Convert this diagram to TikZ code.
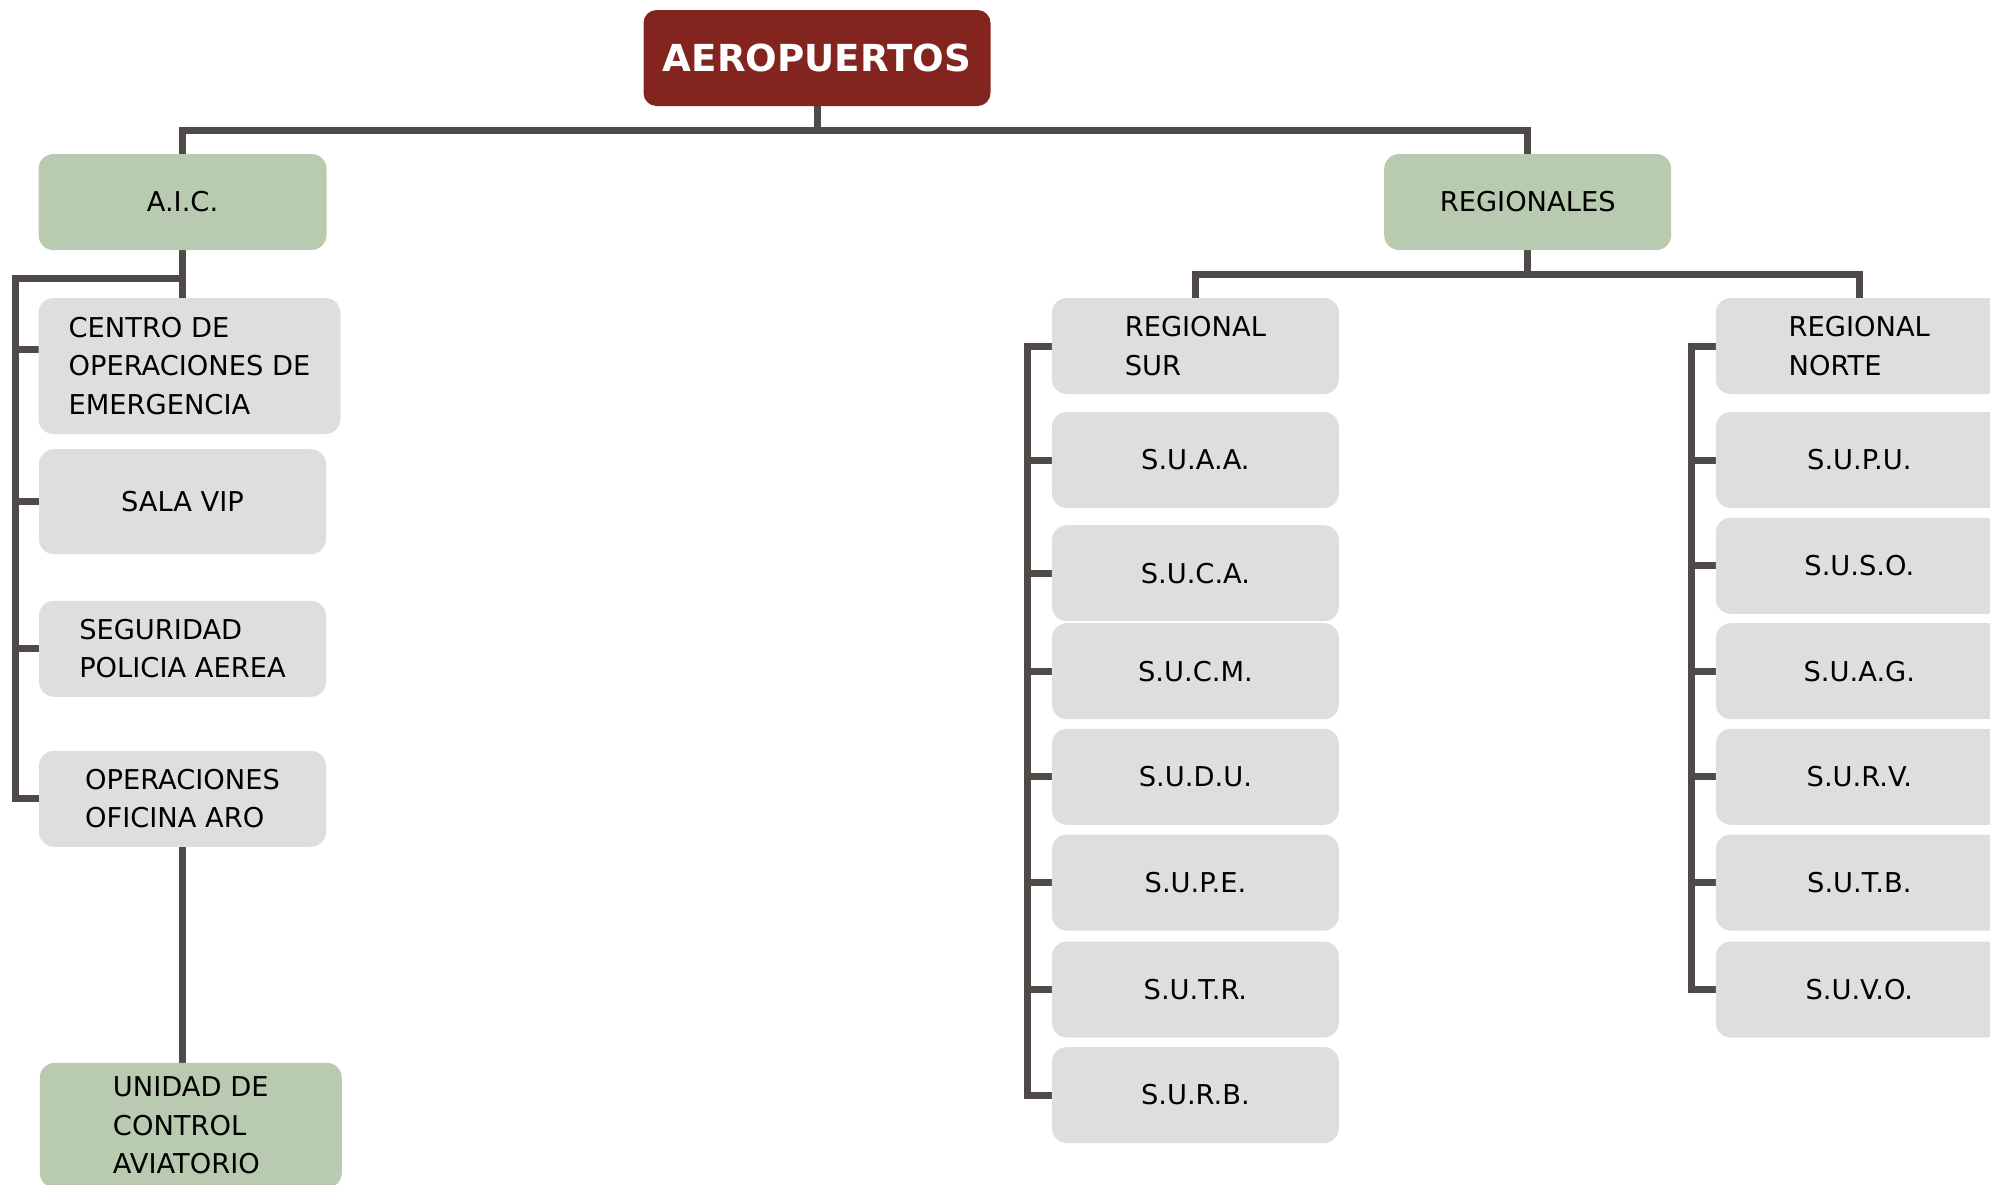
\documentclass[tikz,border=0pt]{standalone}
\usepackage{fontspec}
\setmainfont{DejaVu Sans}
\usetikzlibrary{backgrounds}
\definecolor{aerored}{HTML}{84241F}
\definecolor{boxgreen}{HTML}{B8CBB0}
\definecolor{boxgray}{HTML}{DEDEDE}
\definecolor{linegray}{HTML}{4F4A47}
\begin{document}
\begin{tikzpicture}[x=1pt,y=-1pt,
  box/.style={rectangle, rounded corners=15pt, inner sep=0pt, outer sep=0pt,
    align=left, font=\fontsize{27.3}{38.5}\selectfont, text=black},
  graybox/.style={box, fill=boxgray, minimum width=287pt, minimum height=96pt},
  greenbox/.style={box, fill=boxgreen, minimum width=287pt, minimum height=96pt},
  conn/.style={draw=linegray, line width=7pt, line join=miter},
]
\useasboundingbox (0,0) rectangle (1990,1184);

% root
\node[box, fill=aerored, text=white, font=\bfseries\fontsize{37.2}{44}\selectfont,
  minimum width=347pt, minimum height=96pt, rounded corners=13pt] (aero) at (817,58) {AEROPUERTOS};

% level 1
\node[greenbox, minimum width=288pt] (aic) at (182.5,202) {A.I.C.};
\node[greenbox] (regs) at (1527.7,202) {REGIONALES};

% A.I.C. children
\node[graybox, minimum width=302pt, minimum height=136pt] (centro) at (189.5,366) {CENTRO DE\\OPERACIONES DE\\EMERGENCIA};
\node[graybox, minimum height=105pt] (sala) at (182.5,501.7) {SALA VIP};
\node[graybox] (seg) at (182.5,648.8) {SEGURIDAD\\POLICIA AEREA};
\node[graybox] (ops) at (182.5,798.8) {OPERACIONES\\OFICINA ARO};
\node[greenbox, minimum width=302pt, minimum height=125pt] (unidad) at (190.8,1125.3) {UNIDAD DE\\CONTROL\\AVIATORIO};

% Regional Sur column
\node[graybox] (sur)  at (1195.4,346)   {REGIONAL\\SUR};
\node[graybox] (suaa) at (1195.4,460)   {S.U.A.A.};
\node[graybox] (suca) at (1195.4,573.2) {S.U.C.A.};
\node[graybox] (sucm) at (1195.4,671.2) {S.U.C.M.};
\node[graybox] (sudu) at (1195.4,776.8) {S.U.D.U.};
\node[graybox] (supe) at (1195.4,882.5) {S.U.P.E.};
\node[graybox] (sutr) at (1195.4,989.5) {S.U.T.R.};
\node[graybox] (surb) at (1195.4,1095)  {S.U.R.B.};

% Regional Norte column
\node[graybox] (norte) at (1859.3,346)   {REGIONAL\\NORTE};
\node[graybox] (supu)  at (1859.3,460)   {S.U.P.U.};
\node[graybox] (suso)  at (1859.3,565.8) {S.U.S.O.};
\node[graybox] (suag)  at (1859.3,671.2) {S.U.A.G.};
\node[graybox] (surv)  at (1859.3,776.8) {S.U.R.V.};
\node[graybox] (sutb)  at (1859.3,882.5) {S.U.T.B.};
\node[graybox] (suvo)  at (1859.3,989.5) {S.U.V.O.};

\begin{pgfonlayer}{background}
  % root to level 1
  \coordinate (topbar) at (818,130);
  \draw[conn] (aero.south) -- (aero.south |- topbar);
  \draw[conn] (aic.north) |- (topbar) -| (regs.north);

  % A.I.C. branch
  \coordinate (aicbar) at (15,278);
  \coordinate (centrostub) at ([yshift=17pt]centro.west);
  \draw[conn] (aic.south) -- (aic.south |- centro.north);
  \draw[conn] (aic.south |- aicbar) -- (aicbar) |- (ops.west);
  \draw[conn] (aicbar |- centrostub) -- (centrostub);
  \draw[conn] (aicbar |- sala.west) -- (sala.west);
  \draw[conn] (aicbar |- seg.west) -- (seg.west);
  \draw[conn] (ops.south) -- (ops.south |- unidad.north);

  % Regionales branch
  \coordinate (regbar) at (1528,274);
  \draw[conn] (regs.south) -- (regs.south |- regbar);
  \draw[conn] (sur.north) |- (regbar) -| (norte.north);

  % Sur column
  \coordinate (surx) at (1027.5,0);
  \draw[conn] (sur.west) -| (surx |- surb.west) -- (surb.west);
  \foreach \n in {suaa,suca,sucm,sudu,supe,sutr}
    \draw[conn] (surx |- \n.west) -- (\n.west);

  % Norte column
  \coordinate (norx) at (1691,0);
  \draw[conn] (norte.west) -| (norx |- suvo.west) -- (suvo.west);
  \foreach \n in {supu,suso,suag,surv,sutb}
    \draw[conn] (norx |- \n.west) -- (\n.west);
\end{pgfonlayer}
\end{tikzpicture}
\end{document}
